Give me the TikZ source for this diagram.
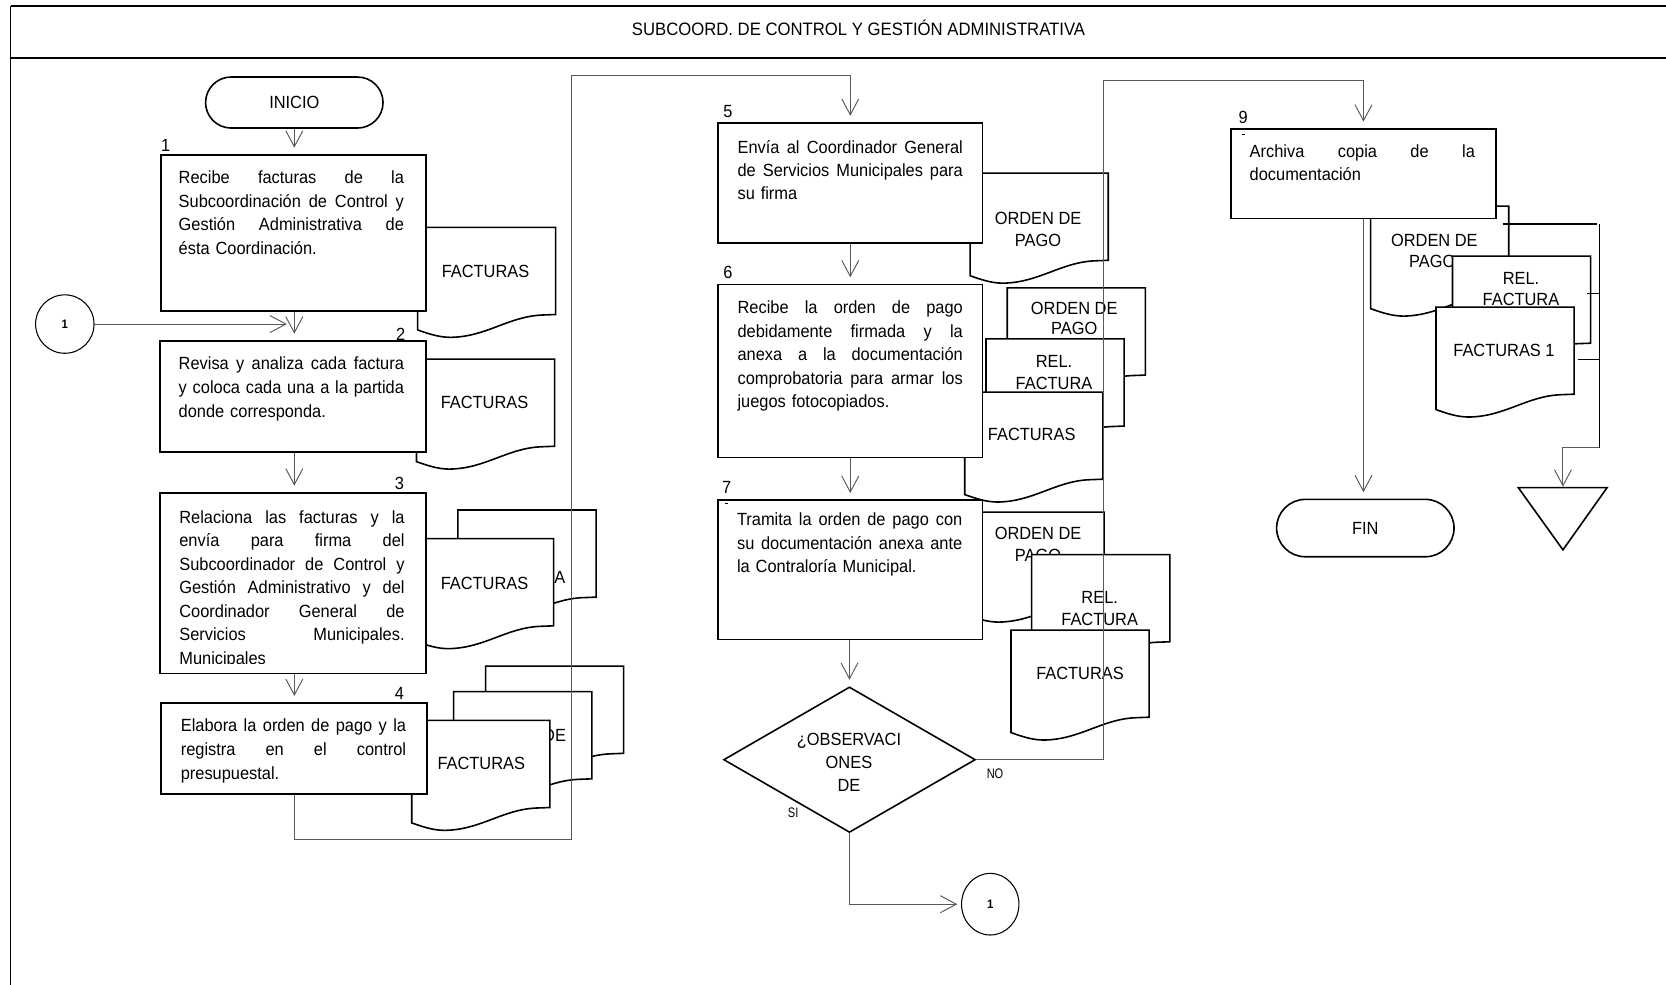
\documentclass[tikz,border=0pt]{standalone}
\usepackage{fontspec}
\setmainfont{Liberation Sans}[FakeStretch=0.93]
\newfontfamily\narrowsans{Liberation Sans}[FakeStretch=0.8]
\usetikzlibrary{arrows.meta,shapes.geometric,shapes.misc}

% one justified line of a procedure box (stretchable interword space)
\newcommand{\jl}[1]{\makebox[212pt][s]{\spaceskip=0.2778em plus 3em\relax #1}}
% document symbol with a wavy bottom, placed by its top-left corner
\newcommand{\docshape}[2]{%
  \begin{scope}[shift={(#1,#2)}]
    \draw[docline] (0,0) -- (130,0) -- (130,82) -- (117,82.5)
      .. controls (85,84) and (65,103) .. (31,103.5)
      .. controls (20,103.5) and (10,100) .. (0,96.5) -- cycle;
  \end{scope}}

\tikzset{
  frame/.style={line width=1.6pt},
  procbox/.style={draw, line width=1.5pt, fill=white, rectangle, inner sep=0pt, anchor=north west},
  boxtext/.style={anchor=base west, inner sep=0pt, text width=212pt, align=left},
  docline/.style={draw, line width=1.5pt, fill=white},
  doctext/.style={anchor=base, inner sep=0pt},
  steplabel/.style={anchor=base, inner sep=0pt},
  flow/.style={draw=black!65, line width=0.9pt, -{Straight Barb[length=15pt,width=16pt]}, shorten >=6pt},
  terminal/.style={draw, line width=1.5pt, fill=white, rounded rectangle, minimum width=167pt, inner sep=0pt},
  connector/.style={draw, line width=1pt, fill=white, ellipse, inner sep=0pt, font=\bfseries\fontsize{11.5}{13}\selectfont},
  branch/.style={anchor=base, inner sep=0pt, font=\narrowsans\fontsize{13}{15}\selectfont},
}

\begin{document}
\begin{tikzpicture}[x=1pt,y=-1pt, every node/.style={font=\fontsize{16.6}{22.4}\selectfont}]
\useasboundingbox (0,0) rectangle (1568,927);

% ---------- frame and header ----------
\draw[frame] (10,5.8) -- (1568,5.8);
\draw[frame] (10,54.5) -- (1568,54.5);
\draw[frame] (10,5.8) -- (10,927);
\node[anchor=base, inner sep=0pt, font=\fontsize{16.9}{18}\selectfont] (title) at (808,33)
  {SUBCOORD. DE CONTROL Y GESTIÓN ADMINISTRATIVA};

% ---------- documents (back to front) ----------
% step 1
\docshape{393}{214}
\node[doctext] (d1) at (457,261) {FACTURAS};
% step 2
\docshape{392}{338}
\node[doctext] (d2) at (456,384) {FACTURAS};
% step 3
\docshape{431}{480}
\node[doctext] (d3a) at (496,528) {REL.};
\node[doctext] (d3b) at (496,549) {FACTURA};
\docshape{391}{507}
\node[doctext] (d3c) at (456,555) {FACTURAS};
% step 4
\docshape{457}{627}
\docshape{427}{651}
\node[doctext] (d4a) at (492,698) {ORDEN DE};
\node[doctext] (d4b) at (492,719) {PAGO};
\docshape{387.5}{678}
\node[doctext] (d4c) at (453,724) {FACTURAS};
% step 5
\docshape{913}{163}
\node[doctext] (d5a) at (977,211) {ORDEN DE};
\node[doctext] (d5b) at (977,232) {PAGO};
% step 6
\docshape{948}{271}
\node[doctext] (d6a) at (1011,296) {ORDEN DE};
\node[doctext] (d6b) at (1011,315) {PAGO};
\docshape{928}{319}
\node[doctext] (d6c) at (992,346) {REL.};
\node[doctext] (d6d) at (992,367) {FACTURA};
\docshape{908}{369}
\node[doctext] (d6e) at (971,415) {FACTURAS};
% step 7
\docshape{909}{482}
\node[doctext] (d7a) at (977,508) {ORDEN DE};
\node[doctext] (d7b) at (977,528) {PAGO};
\docshape{971}{522}
\node[doctext] (d7c) at (1035,568) {REL.};
\node[doctext] (d7d) at (1035,589) {FACTURA};
\docshape{951.5}{593}
\node[doctext] (d7e) at (1016.5,639.5) {FACTURAS};
% step 9
\docshape{1290}{194}
\node[doctext] (d9a) at (1350,232) {ORDEN DE};
\node[doctext] (d9b) at (1348,252) {PAGO};
\docshape{1367}{241}
\node[doctext] (d9c) at (1431.5,268) {REL.};
\node[doctext] (d9d) at (1431.5,287.5) {FACTURA};
\docshape{1351.5}{289}
\node[doctext] (d9e) at (1415.5,335.5) {FACTURAS 1};

% ---------- terminals ----------
\node[terminal, minimum height=48pt] (ini) at (277,96.5) {INICIO};
\node[terminal, minimum height=54pt] (fin) at (1285,497) {FIN};

% ---------- procedure boxes ----------
\node[procbox, minimum width=249pt, minimum height=147pt] (b1) at (151,145) {};
\node[procbox, minimum width=250pt, minimum height=104.5pt] (b2) at (150,320) {};
\node[procbox, minimum width=250pt, minimum height=170pt] (b3) at (150,463) {};
\node[procbox, minimum width=250pt, minimum height=85.5pt] (b4) at (151,661) {};
\node[procbox, minimum width=249pt, minimum height=113pt] (b5) at (675,115) {};
\node[procbox, minimum width=249pt, minimum height=163pt] (b6) at (675,267) {};
\node[procbox, minimum width=249pt, minimum height=131pt] (b7) at (675,470) {};
\node[procbox, minimum width=249pt, minimum height=84.5pt] (b9) at (1158,120.5) {};

% box texts
\node[boxtext] (t1) at (168,172.5) {\jl{Recibe facturas de la}\\\jl{Subcoordinación de Control y}\\\jl{Gestión Administrativa de}\\ésta Coordinación.};
\node[boxtext] (t2) at (168,348) {\jl{Revisa y analiza cada factura}\\\jl{y coloca cada una a la partida}\\donde corresponda.};
\begin{scope}
  \clip (151,463) rectangle (400,624);
  \node[boxtext, font=\fontsize{16.6}{22.1}\selectfont] (t3) at (168.6,492.5) {\jl{Relaciona las facturas y la}\\\jl{envía para firma del}\\\jl{Subcoordinador de Control y}\\\jl{Gestión Administrativo y del}\\\jl{Coordinador General de}\\\jl{Servicios Municipales.}\\Municipales};
\end{scope}
\node[boxtext, font=\fontsize{16.6}{23}\selectfont] (t4) at (170,688) {\jl{Elabora la orden de pago y la}\\\jl{registra en el control}\\presupuestal.};
\node[boxtext, font=\fontsize{16.6}{22}\selectfont] (t5) at (694,144) {\jl{Envía al Coordinador General}\\\jl{de Servicios Municipales para}\\su firma};
\node[boxtext, font=\fontsize{16.6}{22.2}\selectfont] (t6) at (694,295) {\jl{Recibe la orden de pago}\\\jl{debidamente firmada y la}\\\jl{anexa a la documentación}\\\jl{comprobatoria para armar los}\\juegos fotocopiados.};
\node[boxtext, font=\fontsize{16.6}{22}\selectfont] (t7) at (693.5,495) {\jl{Tramita la orden de pago con}\\\jl{su documentación anexa ante}\\la Contraloría Municipal.};
\node[boxtext, font=\fontsize{16.6}{22}\selectfont] (t9) at (1176,148) {\jl{Archiva copia de la}\\documentación};

% step numbers
\node[steplabel] (n1) at (156,143) {1};
\node[steplabel] (n2) at (377,320) {2};
\node[steplabel] (n3) at (376,461) {3};
\node[steplabel] (n4) at (376,658) {4};
\node[steplabel] (n5) at (685,111) {5};
\node[steplabel] (n6) at (685,262) {6};
\node[steplabel] (n7) at (684,464) {7};
\node[steplabel] (n9) at (1170,116) {9};
\draw[line width=0.6pt] (682.5,473.5) -- (685.5,473.5);
\draw[line width=0.6pt] (1168.5,126) -- (1171.5,126);

% ---------- decision ----------
\node[draw, line width=1.5pt, fill=white, diamond, minimum width=237pt, minimum height=137pt, inner sep=0pt] (dia) at (799.5,715) {};
\node[anchor=base, inner sep=0pt] (q1) at (799,702) {¿OBSERVACI};
\node[anchor=base, inner sep=0pt] (q2) at (799,723.5) {ONES};
\node[anchor=base, inner sep=0pt] (q3) at (799,744.5) {DE};
\node[branch] (no) at (936.5,733) {NO};
\node[branch] (si) at (746.5,769.5) {SI};

% ---------- off-page connectors and archive ----------
\node[connector, minimum width=55pt, minimum height=55pt] (c1) at (61,305) {1};
\node[connector, minimum width=54pt, minimum height=58pt] (c2) at (932,851) {1};
\draw[line width=1.5pt, fill=white] (1429,459) -- (1512.5,459) -- (1471,517.5) -- cycle;
\coordinate (tri) at (1471,459);

% ---------- flow lines ----------
\coordinate (colA) at (277,0);
\coordinate (j1) at (270,305);
\coordinate (k1) at (538,790.5);
\coordinate (k2) at (538,71.5);
\coordinate (k3) at (1038.5,76);
\coordinate (r1) at (1505,211);
\coordinate (r2) at (1505,421.5);

\draw[flow] (ini.south) -- (ini.south |- b1.north);
\draw[flow] (b1.south -| colA) -- (b2.north -| colA);
\draw[flow, shorten >=0pt] (c1.east) -- (j1);
\draw[flow] (b2.south -| colA) -- (b3.north -| colA);
\draw[flow] (b3.south -| colA) -- (b4.north -| colA);
\draw[flow] (b4.south -| colA) |- (k1) -- (k2) -| (b5.north);
\draw[flow] (b5.south) -- (b6.north);
\draw[flow] (b6.south) -- (b7.north);
\draw[flow] (b7.south -| dia.north) -- (dia.north);
\draw[flow] (dia.east) -| (k3) -| (b9.north);
\draw[flow, shorten >=3.5pt] (dia.south) |- (c2.west);
\draw[flow] (b9.south) -- (b9.south |- fin.north);

% archive lines on the right
\draw[line width=1.5pt] (1414.5,211) -- (1503,211);
\draw[line width=1pt] (r1) -- (r2);
\draw[line width=1pt] (1494,276) -- (1505,276);
\draw[line width=1pt] (1485,338) -- (1505,338);
\draw[flow, shorten >=1pt] (r2) -| (tri);
\end{tikzpicture}
\end{document}
